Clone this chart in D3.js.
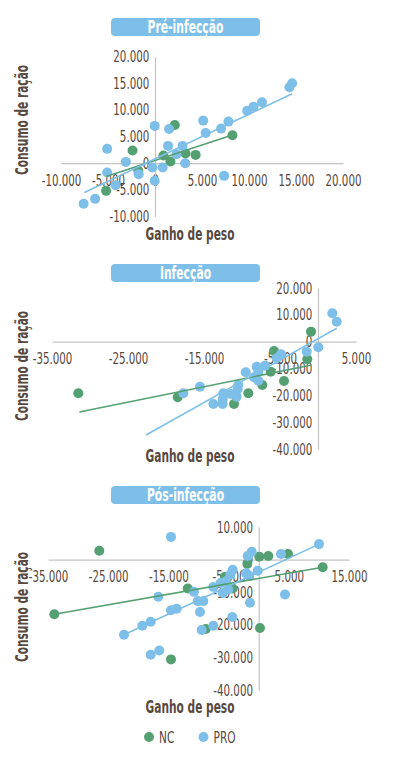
<!DOCTYPE html>
<html>
<head>
<meta charset="utf-8">
<script src="https://cdn.jsdelivr.net/npm/d3@7"></script>
<style>
	body{margin:0;background:#fff;}
	svg text{font-family:"DejaVu Sans Condensed","DejaVu Sans",sans-serif;font-stretch:condensed;fill:#574840;}
</style>
</head>
<body>
<svg id="chart" width="394" height="759"></svg>
<script>
// values: [ganho de peso, consumo de ração]
const preNC = [[-2390,2360],[2110,7170],[900,1430],[1640,300],[3250,1800],[4320,1550],[8240,5240],[-1780,-1440],[-5200,-5190]];
const prePRO = [[-5090,2680],[-3100,240],[-5090,-1760],[-4200,-4120],[-6370,-6690],[-7590,-7620],[-1740,-2060],[-30,6990],
	[-280,-820],[-30,-3310],[820,-820],[1500,6420],[1390,3240],[2290,1690],[2930,3240],[3210,0],[5130,7980],[5390,5670],
	[7030,6480],[7810,7790],[7350,-2380],[9810,9850],[10480,10600],[11380,11420],[14300,14230],[14590,14980]];
const preTrendNC = [[-5200,-2510],[8240,5300]];
const preTrendPRO = [[-7510,-5500],[14590,13030]];

const infNC = [[-31540,-19230],[-18460,-20720],[-11050,-23220],[-9170,-19230],[-7330,-16140],[-6220,-11180],[-5790,-3470],
	[-4470,-14650],[-1410,-6560],[-920,3730]];
const infPRO = [[1880,10590],[2460,7450],[-1490,-3730],[40,-2090],[-4870,-4700],[-5430,-6190],[-6970,-8940],[-8070,-9320],
	[-7850,-11180],[-9510,-11410],[-8420,-13270],[-7850,-14540],[-10480,-16140],[-10570,-17740],[-10700,-20500],[-11490,-19490],
	[-12460,-19230],[-12540,-21360],[-12540,-23220],[-13770,-23220],[-15530,-16770],[-17720,-19230]];
const infTrendNC = [[-31400,-26200],[-830,-8680]];
const infTrendPRO = [[-22630,-34770],[2460,4990]];

const posNC = [[-26480,2730],[-33950,-16770],[-11790,-8890],[-14570,-30610],[-8800,-21310],[-5600,-5240],[-4320,-8890],
	[-1890,-1310],[100,910],[1600,1110],[4870,1720],[10630,-2330],[215,-21000]];
const posPRO = [[-14570,6970],[10020,4750],[3700,1720],[-1160,2420],[-1830,1120],[-2110,-4150],[-1560,-4940],[-170,-3420],
	[-4320,-3130],[-4700,-4500],[-5430,-6670],[-6310,-7170],[-7540,-8380],[-5980,-10200],[-5050,-9180],[-10750,-9900],
	[-16680,-11410],[-10130,-12730],[-9200,-12730],[-1450,-13230],[4370,-10710],[-9750,-16060],[-13620,-15050],[-14570,-15560],
	[-4380,-17580],[-17940,-19090],[-19330,-20300],[-22380,-23030],[-9470,-21620],[-7540,-20300],[-17940,-29190],[-16510,-27880]];
const posTrendNC = [[-33950,-16770],[10630,-2330]];
const posTrendPRO = [[-22380,-23030],[10020,4750]];

const preXTicks = [-10000,-5000,0,5000,10000,15000,20000];
const preYTicks = [-10000,-5000,0,5000,10000,15000,20000];
const infXTicks = [-35000,-25000,-15000,-5000,5000];
const infYTicks = [-40000,-30000,-20000,-10000,0,10000,20000];
const posXTicks = [-35000,-25000,-15000,-5000,5000,15000];
const posYTicks = [-40000,-30000,-20000,-10000,0,10000];

const titles = ["Pré-infecção","Infecção","Pós-infecção"];
const seriesNames = ["NC","PRO"];

const colNC = "#55a072";
const colPRO = "#7dbfe8";

const locale = d3.formatLocale({decimal:",", thousands:".", grouping:[3], currency:["R$",""], minus:"-"});
const fmt = locale.format(",");

const svg = d3.select("#chart");

// the original font is a narrow one: squeeze text horizontally
function textWidth(str, size, weight){
	let t = svg.append("text").style("font-size", size + "px").style("font-weight", weight).text(str);
	let w = t.node().getComputedTextLength();
	t.remove();
	return w;
}
const kTick = 36 / textWidth("20.000", 16, "normal");
const kBold = 89 / textWidth("Ganho de peso", 17, "bold");
const kTitle = 76 / textWidth(titles[0], 17, "bold");

const panels = [
	{title:titles[0], top:18, nc:preNC, pro:prePRO, tNC:preTrendNC, tPRO:preTrendPRO,
		xd:[-10000,20000], xr:[61,343], yd:[-10000,20000], yr:[216.5,56.5], xt:preXTicks, yt:preYTicks, yTitle:120, xTitle:240},
	{title:titles[1], top:264, nc:infNC, pro:infPRO, tNC:infTrendNC, tPRO:infTrendPRO,
		xd:[-35000,5000], xr:[52,356], yd:[-40000,20000], yr:[449,288], xt:infXTicks, yt:infYTicks, yTitle:366, xTitle:462},
	{title:titles[2], top:486, nc:posNC, pro:posPRO, tNC:posTrendNC, tPRO:posTrendPRO,
		xd:[-35000,15000], xr:[48,349], yd:[-40000,10000], yr:[690,527], xt:posXTicks, yt:posYTicks, yTitle:607, xTitle:713}
];

function drawPanel(p){
	let g = svg.append("g");
	let x = d3.scaleLinear().domain(p.xd).range(p.xr);
	let y = d3.scaleLinear().domain(p.yd).range(p.yr);

	// title box
	g.append("rect")
		.attr("x", 111).attr("y", p.top)
		.attr("width", 149).attr("height", 18)
		.attr("rx", 4)
		.attr("fill", colPRO);
	g.append("text")
		.attr("transform", "translate(185.5," + (p.top + 15) + ") scale(" + kTitle + ",1)")
		.attr("text-anchor", "middle")
		.style("fill", "#fff")
		.style("font-weight", "bold")
		.style("font-size", "17px")
		.text(p.title);

	// axes cross at zero
	let xAxis = g.append("g")
		.attr("transform", "translate(0," + y(0) + ")")
		.call(d3.axisBottom(x).tickValues(p.xt).tickFormat(fmt).tickSize(0).tickPadding(11));
	let yAxis = g.append("g")
		.attr("transform", "translate(" + x(0) + ",0)")
		.call(d3.axisLeft(y).tickValues(p.yt).tickFormat(fmt).tickSize(0).tickPadding(8));
	for (let ax of [xAxis, yAxis]){
		ax.select(".domain").attr("stroke", "#c4c4c4").attr("stroke-width", 1.2);
		ax.attr("font-family", null).attr("font-size", null);
		ax.selectAll("text")
			.style("font-size", "16px")
			.attr("fill", null)
			.attr("transform", "scale(" + kTick + ",1)");
	}

	// points, NC first then PRO
	g.append("g").selectAll("circle")
		.data(p.nc)
		.join("circle")
		.attr("cx", d => x(d[0]))
		.attr("cy", d => y(d[1]))
		.attr("r", 5)
		.attr("fill", colNC);
	g.append("g").selectAll("circle")
		.data(p.pro)
		.join("circle")
		.attr("cx", d => x(d[0]))
		.attr("cy", d => y(d[1]))
		.attr("r", 5)
		.attr("fill", colPRO);

	// trendlines
	let line = d3.line().x(d => x(d[0])).y(d => y(d[1]));
	g.append("path").attr("d", line(p.tNC)).attr("stroke", colNC).attr("stroke-width", 1.6).attr("fill", "none");
	g.append("path").attr("d", line(p.tPRO)).attr("stroke", colPRO).attr("stroke-width", 1.6).attr("fill", "none");

	// axis titles
	g.append("text")
		.attr("transform", "translate(27.5," + p.yTitle + ") rotate(-90) scale(" + kBold + ",1)")
		.attr("text-anchor", "middle")
		.style("font-weight", "bold")
		.style("font-size", "17px")
		.text("Consumo de ração");
	g.append("text")
		.attr("transform", "translate(190," + p.xTitle + ") scale(" + kBold + ",1)")
		.attr("text-anchor", "middle")
		.style("font-weight", "bold")
		.style("font-size", "17px")
		.text("Ganho de peso");
}

for (let p of panels) drawPanel(p);

// legend
let legend = svg.append("g").selectAll("g")
	.data(seriesNames)
	.join("g")
	.attr("transform", (d, i) => "translate(" + [149, 203.5][i] + ",737)");
legend.append("circle")
	.attr("r", 5)
	.attr("fill", (d, i) => i == 0 ? colNC : colPRO);
legend.append("text")
	.attr("transform", "translate(10,6) scale(" + kTick + ",1)")
	.style("font-size", "16.5px")
	.text(d => d);
</script>
</body>
</html>
